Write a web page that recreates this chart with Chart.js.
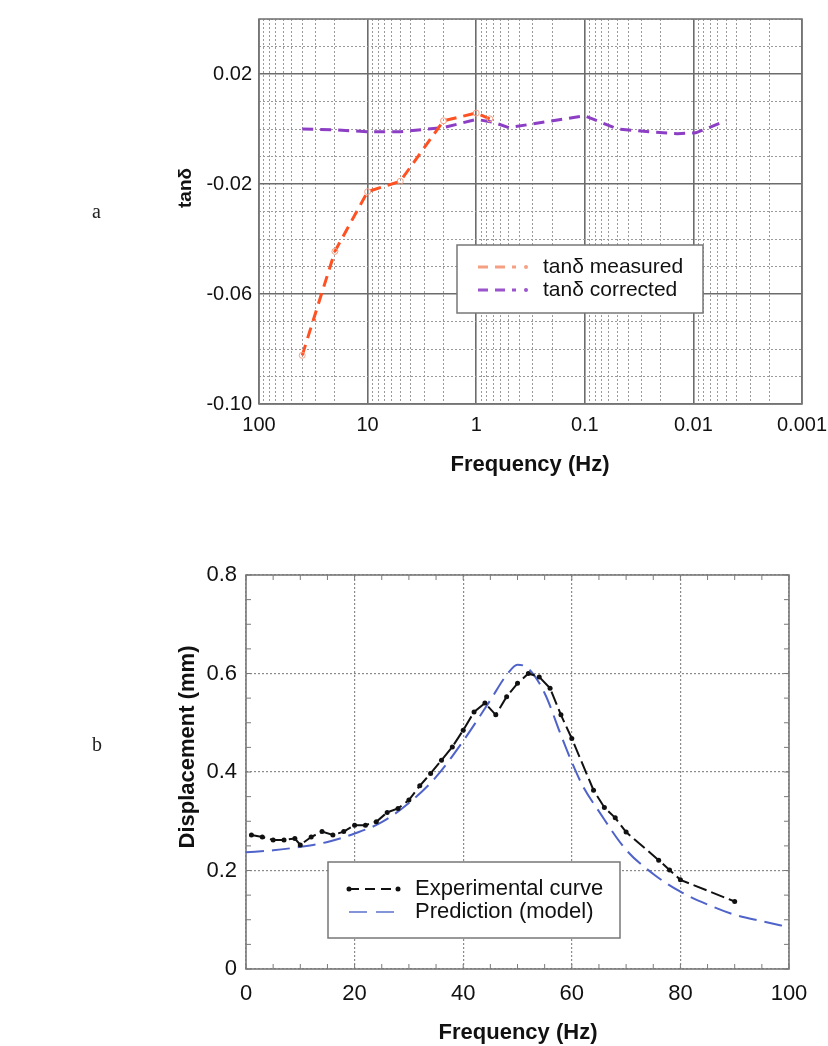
<!DOCTYPE html>
<html>
<head>
<meta charset="utf-8">
<script src="https://cdn.jsdelivr.net/npm/chart.js@4.4.1/dist/chart.umd.min.js"></script>
<style>
  body { margin: 0; background: #fff; }
  #page { position: relative; width: 828px; height: 1046px; overflow: hidden; background: #fff; }
  .wrap { position: absolute; left: 0; width: 828px; }
  .panel-tag { position: absolute; left: 92px; font: 20px "Liberation Serif", "Times New Roman", serif; color: #222; }
</style>
</head>
<body>
<div id="page">
  <div class="wrap" style="top:0;height:500px"><canvas id="lossChart"></canvas></div>
  <div class="wrap" style="top:540px;height:506px"><canvas id="dispChart"></canvas></div>
  <div class="panel-tag" style="top:200px">a</div>
  <div class="panel-tag" style="top:733px">b</div>
</div>
<script>
const FONT = '"Liberation Sans", Arial, Helvetica, sans-serif';

// panel a : loss tangent vs frequency (log axis, reversed)
const measuredFreq = [40, 20, 10, 5, 2, 1, 0.75];
const measuredTan = [-0.0823, -0.0445, -0.0228, -0.019, 0.003, 0.0058, 0.0037];
const correctedFreq = [40, 20, 10, 5, 2, 1, 0.7, 0.5, 0.1, 0.05, 0.025, 0.014, 0.0095, 0.005];
const correctedTan = [0, -0.0003, -0.001, -0.001, 0.0005, 0.0035, 0.0025, 0.0005, 0.0048, 0, -0.001, -0.0017, -0.0014, 0.003];
const freqDecades = [100, 10, 1, 0.1, 0.01, 0.001];
const tanLabels = [0.02, -0.02, -0.06, -0.1];

// panel b : displacement vs frequency
const expFreq = [1, 3, 5, 7, 9, 10, 12, 14, 16, 18, 20, 22, 24, 26, 28, 30, 32, 34, 36, 38, 40,
  42, 44, 46, 48, 50, 52, 54, 56, 58, 60, 64, 66, 68, 70, 76, 78, 80, 90];
const expDisp = [0.272, 0.268, 0.262, 0.262, 0.265, 0.252, 0.268, 0.279, 0.272, 0.279, 0.292,
  0.292, 0.299, 0.318, 0.326, 0.343, 0.372, 0.397, 0.424, 0.451, 0.485, 0.522, 0.540, 0.516,
  0.553, 0.580, 0.600, 0.593, 0.570, 0.516, 0.468, 0.363, 0.328, 0.307, 0.278, 0.221, 0.201,
  0.181, 0.137];
const modelFreq = [0, 5, 10, 15, 20, 25, 30, 35, 40, 45, 48, 50, 52, 55, 58, 60, 62, 65, 70, 75,
  80, 85, 90, 95, 100];
const modelDisp = [0.237, 0.241, 0.248, 0.258, 0.275, 0.298, 0.337, 0.390, 0.463, 0.546, 0.597,
  0.618, 0.610, 0.560, 0.475, 0.420, 0.372, 0.320, 0.242, 0.193, 0.157, 0.131, 0.110, 0.097, 0.085];
const dispTicks = [0, 0.2, 0.4, 0.6, 0.8];
const hzTicks = [0, 20, 40, 60, 80, 100];

function pairs(xs, ys) {
  return xs.map((x, i) => ({ x: x, y: ys[i] }));
}

function isDecade(v) {
  const l = Math.log10(v);
  return Math.abs(l - Math.round(l)) < 1e-9;
}

// 1..9 x 10^k for every decade of the log axis
const logTickValues = [];
for (let k = -3; k <= 1; k++) {
  for (let m = 1; m <= 9; m++) {
    logTickValues.push(Number((m * Math.pow(10, k)).toPrecision(6)));
  }
}
logTickValues.push(100);

const tanTickValues = [];
for (let i = -10; i <= 4; i++) tanTickValues.push(i / 100);

// frame around the plot area, plus optional inward minor ticks
const frame = {
  id: 'frame',
  beforeDatasetsDraw(chart, args, opts) {
    const { ctx, chartArea: a } = chart;
    ctx.save();
    ctx.strokeStyle = opts.color;
    ctx.lineWidth = opts.width;
    if (opts.minorY) {
      const ys = chart.scales.y;
      ctx.lineWidth = 1;
      for (let v = 0; v <= 0.8 + 1e-9; v += opts.minorY) {
        const py = ys.getPixelForValue(v);
        ctx.beginPath();
        ctx.moveTo(a.left, py); ctx.lineTo(a.left + 5, py);
        ctx.moveTo(a.right, py); ctx.lineTo(a.right - 5, py);
        ctx.stroke();
      }
      const xs = chart.scales.x;
      for (let v = 0; v <= 100 + 1e-9; v += opts.minorX) {
        const px = xs.getPixelForValue(v);
        ctx.beginPath();
        ctx.moveTo(px, a.bottom); ctx.lineTo(px, a.bottom - 5);
        ctx.moveTo(px, a.top); ctx.lineTo(px, a.top + 5);
        ctx.stroke();
      }
      ctx.lineWidth = opts.width;
    }
    ctx.strokeRect(a.left, a.top, a.right - a.left, a.bottom - a.top);
    ctx.restore();
  }
};

const axisTitles = {
  id: 'axisTitles',
  afterDraw(chart, args, opts) {
    const ctx = chart.ctx;
    ctx.save();
    ctx.fillStyle = '#111';
    ctx.textAlign = 'center';
    ctx.textBaseline = 'middle';
    ctx.font = 'bold ' + opts.x.size + 'px ' + FONT;
    ctx.fillText(opts.x.text, opts.x.cx, opts.x.cy);
    ctx.translate(opts.y.cx, opts.y.cy);
    ctx.rotate(-Math.PI / 2);
    ctx.font = 'bold ' + opts.y.size + 'px ' + FONT;
    ctx.fillText(opts.y.text, 0, 0);
    ctx.restore();
  }
};

// boxed legend placed inside the plot
const boxLegend = {
  id: 'boxLegend',
  afterDraw(chart, args, opts) {
    const ctx = chart.ctx;
    const b = opts.box;
    ctx.save();
    ctx.fillStyle = '#fff';
    ctx.fillRect(b.x, b.y, b.w, b.h);
    ctx.strokeStyle = '#777';
    ctx.lineWidth = 1.5;
    ctx.strokeRect(b.x, b.y, b.w, b.h);
    ctx.font = opts.size + 'px ' + FONT;
    ctx.textBaseline = 'middle';
    opts.items.forEach(it => {
      ctx.strokeStyle = it.color;
      ctx.fillStyle = it.color;
      ctx.lineWidth = it.width;
      ctx.setLineDash(it.dash);
      ctx.beginPath();
      ctx.moveTo(it.x1, it.y);
      ctx.lineTo(it.x2, it.y);
      ctx.stroke();
      ctx.setLineDash([]);
      (it.dots || []).forEach(dx => {
        ctx.beginPath();
        ctx.arc(dx, it.y, it.dotR, 0, Math.PI * 2);
        ctx.fill();
      });
      ctx.fillStyle = '#111';
      ctx.fillText(it.text, opts.textX, it.y);
    });
    ctx.restore();
  }
};

new Chart(document.getElementById('lossChart'), {
  type: 'line',
  data: {
    datasets: [
      {
        label: 'tanδ measured',
        data: pairs(measuredFreq, measuredTan),
        borderColor: '#ff5122',
        borderWidth: 3,
        borderDash: [11, 7],
        pointRadius: 3,
        pointBackgroundColor: 'rgba(255,255,255,0)',
        pointBorderColor: '#f3a085',
        pointBorderWidth: 1,
        tension: 0
      },
      {
        label: 'tanδ corrected',
        data: pairs(correctedFreq, correctedTan),
        borderColor: '#8c3fc4',
        borderWidth: 3,
        borderDash: [11, 7],
        pointRadius: 0,
        tension: 0
      }
    ]
  },
  options: {
    responsive: true,
    maintainAspectRatio: false,
    animation: false,
    events: [],
    layout: { padding: { left: 0, right: 26, top: 10, bottom: 0 } },
    scales: {
      x: {
        type: 'logarithmic',
        reverse: true,
        min: 0.001,
        max: 100,
        afterBuildTicks: (scale) => {
          scale.ticks = logTickValues.map(v => ({ value: v }));
        },
        afterFit: (scale) => { scale.height = 96; },
        ticks: {
          autoSkip: false,
          maxRotation: 0,
          padding: 9,
          color: '#111',
          font: { family: FONT, size: 20 },
          callback: (v) => (freqDecades.some(d => Math.abs(d - v) < d * 1e-6) ? String(v) : '')
        },
        grid: {
          drawTicks: false,
          color: (c) => (c.tick && isDecade(c.tick.value) ? '#6c6c6c' : '#9a9a9a'),
          lineWidth: (c) => (c.tick && isDecade(c.tick.value) ? 1.6 : 1)
        },
        border: {
          display: false,
          dash: (c) => (c.tick && isDecade(c.tick.value) ? [] : [2, 2])
        }
      },
      y: {
        type: 'linear',
        min: -0.1,
        max: 0.04,
        afterBuildTicks: (scale) => {
          scale.ticks = tanTickValues.map(v => ({ value: v }));
        },
        afterFit: (scale) => { scale.width = 259; },
        ticks: {
          autoSkip: false,
          padding: 7,
          color: '#111',
          font: { family: FONT, size: 20 },
          callback: (v) => (tanLabels.some(t => Math.abs(t - v) < 1e-9) ? v.toFixed(2) : '')
        },
        grid: {
          drawTicks: false,
          color: (c) => (c.tick && tanLabels.some(t => Math.abs(t - c.tick.value) < 1e-9) ? '#6c6c6c' : '#9a9a9a'),
          lineWidth: (c) => (c.tick && tanLabels.some(t => Math.abs(t - c.tick.value) < 1e-9) ? 1.6 : 1)
        },
        border: {
          display: false,
          dash: (c) => (c.tick && tanLabels.some(t => Math.abs(t - c.tick.value) < 1e-9) ? [] : [2, 2])
        }
      }
    },
    plugins: {
      legend: { display: false },
      tooltip: { enabled: false },
      frame: { color: '#777', width: 1.6 },
      axisTitles: {
        x: { text: 'Frequency (Hz)', cx: 530, cy: 465, size: 22 },
        y: { text: 'tanδ', cx: 186, cy: 188, size: 19 }
      },
      boxLegend: {
        box: { x: 457, y: 245, w: 246, h: 68 },
        size: 21,
        textX: 543,
        items: [
          { text: 'tanδ measured', color: '#f5a083', width: 3, dash: [10, 7], x1: 478, x2: 516, y: 267, dots: [526], dotR: 2 },
          { text: 'tanδ corrected', color: '#9a55cc', width: 3, dash: [10, 7], x1: 478, x2: 516, y: 290, dots: [526], dotR: 2 }
        ]
      }
    }
  },
  plugins: [frame, axisTitles, boxLegend]
});

new Chart(document.getElementById('dispChart'), {
  type: 'line',
  data: {
    datasets: [
      {
        label: 'Experimental curve',
        data: pairs(expFreq, expDisp),
        borderColor: '#111',
        borderWidth: 2,
        borderDash: [14, 5],
        pointRadius: 2.5,
        pointBackgroundColor: '#111',
        pointBorderWidth: 0,
        tension: 0
      },
      {
        label: 'Prediction (model)',
        data: pairs(modelFreq, modelDisp),
        borderColor: '#4f63c9',
        borderWidth: 2,
        borderDash: [18, 8],
        pointRadius: 0,
        cubicInterpolationMode: 'monotone'
      }
    ]
  },
  options: {
    responsive: true,
    maintainAspectRatio: false,
    animation: false,
    events: [],
    layout: { padding: { left: 0, right: 39, top: 35, bottom: 0 } },
    scales: {
      x: {
        type: 'linear',
        min: 0,
        max: 100,
        afterBuildTicks: (scale) => {
          scale.ticks = hzTicks.map(v => ({ value: v }));
        },
        afterFit: (scale) => { scale.height = 77; },
        ticks: {
          autoSkip: false,
          maxRotation: 0,
          padding: 12,
          color: '#111',
          font: { family: FONT, size: 22 }
        },
        grid: { drawTicks: false, color: '#8a8a8a', lineWidth: 1.2 },
        border: { display: false, dash: [2, 2] }
      },
      y: {
        type: 'linear',
        min: 0,
        max: 0.8,
        afterBuildTicks: (scale) => {
          scale.ticks = dispTicks.map(v => ({ value: v }));
        },
        afterFit: (scale) => { scale.width = 246; },
        ticks: {
          autoSkip: false,
          padding: 9,
          color: '#111',
          font: { family: FONT, size: 22 },
          callback: (v) => String(Number(v.toFixed(1)))
        },
        grid: { drawTicks: false, color: '#8a8a8a', lineWidth: 1.2 },
        border: { display: false, dash: [2, 2] }
      }
    },
    plugins: {
      legend: { display: false },
      tooltip: { enabled: false },
      frame: { color: '#7a7a7a', width: 1.6, minorY: 0.05, minorX: 5 },
      axisTitles: {
        x: { text: 'Frequency (Hz)', cx: 518, cy: 493, size: 22 },
        y: { text: 'Displacement (mm)', cx: 188, cy: 207, size: 22 }
      },
      boxLegend: {
        box: { x: 328, y: 322, w: 292, h: 76 },
        size: 22,
        textX: 415,
        items: [
          { text: 'Experimental curve', color: '#111', width: 1.8, dash: [10, 6], x1: 349, x2: 398, y: 349, dots: [349, 398], dotR: 2.5 },
          { text: 'Prediction (model)', color: '#8494d8', width: 2, dash: [18, 9], x1: 349, x2: 398, y: 372 }
        ]
      }
    }
  },
  plugins: [frame, axisTitles, boxLegend]
});
</script>
</body>
</html>
